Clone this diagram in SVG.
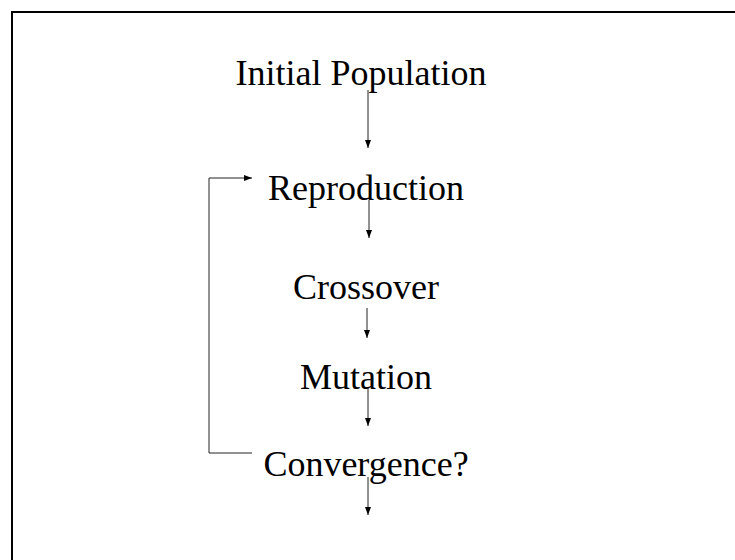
<svg xmlns="http://www.w3.org/2000/svg" width="735" height="560" viewBox="0 0 735 560">
<style>
.lbl{font-family:"Liberation Serif","Times New Roman",serif;font-size:36px;fill:#000;text-anchor:middle}
.c{stroke:#222;stroke-width:1;fill:none}
.frame{stroke:#000;stroke-width:2;fill:none}
</style>
<defs>
<marker id="ah" markerWidth="8" markerHeight="6" refX="8" refY="3" orient="auto" markerUnits="userSpaceOnUse" viewBox="0 0 8 6">
<path d="M0,0 L8,3 L0,6 Z" fill="#000"/>
</marker>
</defs>
<rect width="735" height="560" fill="#fff"/>
<path class="frame" d="M12,560 L12,12 L735,12"/>
<g id="n-initial"><text class="lbl" x="361" y="85">Initial Population</text></g>
<g id="n-reproduction"><text class="lbl" x="366" y="200">Reproduction</text></g>
<g id="n-crossover"><text class="lbl" x="366" y="299">Crossover</text></g>
<g id="n-mutation"><text class="lbl" x="366" y="389">Mutation</text></g>
<g id="n-convergence"><text class="lbl" x="366" y="476">Convergence?</text></g>
<g id="connectors">
<path class="c" d="M368,90 V148" marker-end="url(#ah)"/>
<path class="c" d="M369,200 V238" marker-end="url(#ah)"/>
<path class="c" d="M367,308 V338" marker-end="url(#ah)"/>
<path class="c" d="M368,388 V426" marker-end="url(#ah)"/>
<path class="c" d="M368,477 V515" marker-end="url(#ah)"/>
<path class="c" d="M252,453 H209 V178 H252" marker-end="url(#ah)"/>
</g>
</svg>
